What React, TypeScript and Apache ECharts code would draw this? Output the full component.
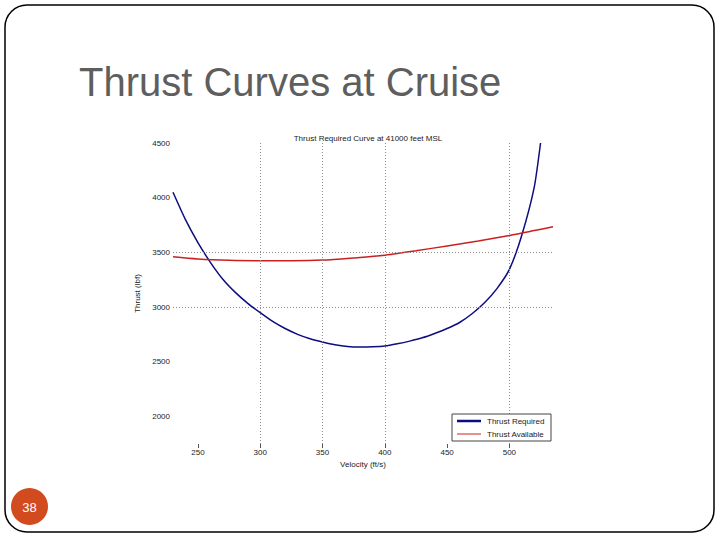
import { useEffect, useRef } from 'react';
import * as echarts from 'echarts';

// velocity (ft/s) and thrust (lbf)
const requiredVelocity = [230, 240, 250, 260, 270, 280, 290, 300, 310, 320, 330, 340, 350, 360, 370, 380, 390, 400, 410, 420, 430, 440, 450, 460, 470, 480, 490, 500, 510, 520, 525];
const thrustRequired = [4050, 3800, 3590, 3410, 3255, 3135, 3035, 2950, 2870, 2805, 2752, 2712, 2682, 2657, 2641, 2636, 2638, 2645, 2665, 2690, 2720, 2760, 2805, 2860, 2940, 3040, 3170, 3345, 3660, 4100, 4500];

const availableVelocity = [230, 250, 275, 300, 325, 350, 375, 400, 425, 450, 475, 500, 520, 535];
const thrustAvailable = [3460, 3440, 3428, 3425, 3425, 3430, 3450, 3475, 3515, 3560, 3605, 3655, 3700, 3735];

const xTicks = [250, 300, 350, 400, 450, 500];
const yTicks = [2000, 2500, 3000, 3500, 4000, 4500];
const xGridLines = [300, 350, 400, 500];
const yGridLines = [3000, 3500];

const FONT = 'Liberation Sans, Arial, sans-serif';
const NAVY = '#0d0d80';
const RED = '#cc2020';

const App = () => {
    const chartRef = useRef<HTMLDivElement>(null);

    useEffect(() => {
        if (!chartRef.current) return;
        const chart = echarts.init(chartRef.current, null, { renderer: 'svg' });

        const gridLine = { color: '#8c8c8c', type: [1, 2] as number[], width: 1 };

        chart.setOption({
            animation: false,
            backgroundColor: '#fff',
            title: {
                text: 'Thrust Required Curve at 41000 feet MSL',
                left: 363,
                top: 129,
                textAlign: 'center',
                textStyle: { fontSize: 8, fontWeight: 'normal', color: '#222', fontFamily: FONT }
            },
            grid: { left: 173, right: 167, top: 143, bottom: 96 },
            xAxis: {
                type: 'value',
                min: 230,
                max: 535,
                name: 'Velocity (ft/s)',
                nameLocation: 'middle',
                nameGap: 15,
                nameTextStyle: { fontSize: 8, color: '#222', fontFamily: FONT },
                axisLine: { show: false },
                axisTick: { show: true, length: 4, customValues: xTicks, lineStyle: { color: '#555' } },
                axisLabel: { customValues: xTicks, fontSize: 8, color: '#222', fontFamily: FONT, margin: 4 },
                splitLine: { show: false }
            },
            yAxis: {
                type: 'value',
                min: 1750,
                max: 4500,
                name: 'Thrust (lbf)',
                nameLocation: 'middle',
                nameGap: 30,
                nameTextStyle: { fontSize: 8, color: '#222', fontFamily: FONT },
                axisLine: { show: false },
                axisTick: { show: false },
                axisLabel: {
                    customValues: yTicks,
                    formatter: (v: number) => String(v),
                    fontSize: 8,
                    color: '#222',
                    fontFamily: FONT,
                    margin: 3
                },
                splitLine: { show: false }
            },
            series: [
                {
                    name: 'Thrust Required',
                    type: 'line',
                    data: requiredVelocity.map((v, i) => [v, thrustRequired[i]]),
                    showSymbol: false,
                    smooth: 0.2,
                    lineStyle: { color: NAVY, width: 1.5 },
                    z: 3,
                    markLine: {
                        silent: true,
                        symbol: 'none',
                        label: { show: false },
                        lineStyle: gridLine,
                        data: [
                            ...xGridLines.map(x => ({ xAxis: x })),
                            ...yGridLines.map(y => ({ yAxis: y }))
                        ]
                    }
                },
                {
                    name: 'Thrust Available',
                    type: 'line',
                    data: availableVelocity.map((v, i) => [v, thrustAvailable[i]]),
                    showSymbol: false,
                    smooth: 0.3,
                    lineStyle: { color: RED, width: 1.5 },
                    z: 4
                }
            ],
            graphic: [
                // slide frame
                {
                    type: 'rect',
                    shape: { x: 5, y: 5, width: 709, height: 527, r: 22 },
                    style: { fill: 'none', stroke: '#000', lineWidth: 1.5 },
                    silent: true
                },
                {
                    type: 'text',
                    x: 79,
                    y: 62,
                    style: {
                        text: 'Thrust Curves at Cruise',
                        font: '40px "Liberation Sans", Arial, sans-serif',
                        fill: '#5e5e5e'
                    }
                },
                // page number
                {
                    type: 'circle',
                    shape: { cx: 29.5, cy: 506.5, r: 18.5 },
                    style: { fill: '#d24b1f' }
                },
                {
                    type: 'text',
                    x: 29.5,
                    y: 507,
                    style: {
                        text: '38',
                        font: '13px "Liberation Sans", Arial, sans-serif',
                        fill: '#fff',
                        align: 'center',
                        verticalAlign: 'middle'
                    }
                },
                // legend box
                {
                    type: 'rect',
                    z: 10,
                    shape: { x: 452, y: 414, width: 99, height: 27 },
                    style: { fill: '#fff', stroke: '#444', lineWidth: 1 }
                },
                {
                    type: 'line',
                    z: 11,
                    shape: { x1: 457, y1: 421, x2: 481, y2: 421 },
                    style: { stroke: NAVY, lineWidth: 2.5 }
                },
                {
                    type: 'text',
                    z: 11,
                    x: 487,
                    y: 421,
                    style: { text: 'Thrust Required', font: '8px "Liberation Sans", Arial, sans-serif', fill: '#222', verticalAlign: 'middle' }
                },
                {
                    type: 'line',
                    z: 11,
                    shape: { x1: 457, y1: 434, x2: 481, y2: 434 },
                    style: { stroke: RED, lineWidth: 1 }
                },
                {
                    type: 'text',
                    z: 11,
                    x: 487,
                    y: 434,
                    style: { text: 'Thrust Available', font: '8px "Liberation Sans", Arial, sans-serif', fill: '#222', verticalAlign: 'middle' }
                }
            ]
        });

        return () => {
            chart.dispose();
        };
    }, []);

    return <div ref={chartRef} style={{ position: 'fixed', left: 0, top: 0, width: 720, height: 540 }} />;
};

export default App;
